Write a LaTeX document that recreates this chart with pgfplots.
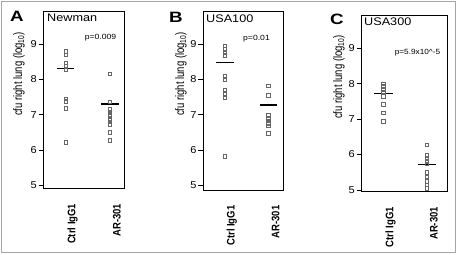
\documentclass[border=0pt]{standalone}
\usepackage{pgfplots}
\pgfplotsset{compat=1.18}
\usepackage{fontspec}
\setmainfont{Liberation Sans}
\pgfplotsset{
  panel/.style={
    scale only axis, anchor=south west,
    xtick={1,2}, xticklabels={Ctrl IgG1,AR-301},
    ytick={5,6,7,8,9},
    ytick pos=left, tick align=outside, major tick length=5pt,
    x tick style={draw=none},
    y tick style={black, line width=0.6pt},
    yticklabel style={font=\fontsize{10}{10}\selectfont, inner sep=1.5pt, xscale=1.1},
    xticklabel style={font=\fontsize{9.5}{10}\selectfont\bfseries, yshift=-7pt, xshift=7pt, rotate=90, anchor=east, yscale=1.15},
    /pgf/number format/assume math mode=true,
    axis line style={line width=0.8pt},
    clip=false,
  },
  dots/.style={only marks, mark=square, mark size=1.8pt, mark options={draw=black!60, line width=0.6pt}},
  mean/.style={black, line width=1.3pt, no marks},
}
\begin{document}
\begin{tikzpicture}
\useasboundingbox (0pt,0pt) rectangle (457pt,254pt);
\draw[gray!70, line width=1pt] (1pt,1.5pt) rectangle (455.5pt,252.5pt);

% Panel A
\begin{axis}[panel, at={(43.5pt,65.7pt)}, width=80.5pt, height=176.6pt,
  xmin=0.5, xmax=2.32, ymin=4.91, ymax=9.92]
\addplot[dots] coordinates {(1,8.80) (1,8.70) (1,8.47) (1,8.39) (1,8.27) (1,7.45) (1,7.38) (1,7.18) (1,6.22)};
\addplot[dots] coordinates {(2,8.16) (2,7.36) (2,7.15) (2,7.08) (2,7.01) (2,6.95) (2,6.87) (2,6.80) (2,6.73) (2,6.50) (2,6.27)};
\addplot[mean] coordinates {(0.8,8.30) (1.2,8.30)};
\addplot[mean] coordinates {(1.8,7.30) (2.2,7.30)};
\end{axis}

% Panel B
\begin{axis}[panel, at={(203.3pt,64pt)}, width=79.7pt, height=178.3pt,
  xmin=0.51, xmax=2.33, ymin=4.86, ymax=9.92]
\addplot[dots] coordinates {(1,8.95) (1,8.86) (1,8.77) (1,8.68) (1,8.09) (1,8.00) (1,7.70) (1,7.58) (1,7.49) (1,5.82)};
\addplot[dots] coordinates {(2,7.82) (2,7.54) (2,6.98) (2,6.90) (2,6.82) (2,6.75) (2,6.68) (2,6.47)};
\addplot[mean] coordinates {(0.8,8.48) (1.2,8.48)};
\addplot[mean] coordinates {(1.8,7.27) (2.2,7.27)};
\end{axis}

% Panel C
\begin{axis}[panel, at={(361.7pt,62.5pt)}, width=85.3pt, height=176.5pt,
  xmin=0.5, xmax=2.46, ymin=4.955, ymax=9.94]
\addplot[dots] coordinates {(1,8.00) (1,7.92) (1,7.84) (1,7.77) (1,7.64) (1,7.41) (1,7.18) (1,6.94)};
\addplot[dots] coordinates {(2,6.27) (2,5.97) (2,5.89) (2,5.80) (2,5.74) (2,5.50) (2,5.37) (2,5.25) (2,5.14) (2,5.04)};
\addplot[mean] coordinates {(0.79,7.73) (1.21,7.73)};
\addplot[mean] coordinates {(1.79,5.72) (2.21,5.72)};
\end{axis}

% panel letters
\node[font=\fontsize{15}{15}\selectfont\bfseries, xscale=1.25] at (17pt,238pt) {A};
\node[font=\fontsize{15}{15}\selectfont\bfseries, xscale=1.25] at (176pt,237pt) {B};
\node[font=\fontsize{15}{15}\selectfont\bfseries, xscale=1.25] at (337pt,235pt) {C};

% titles
\node[anchor=west, font=\fontsize{11}{11}\selectfont, xscale=1.15, inner sep=0pt] at (47pt,236pt) {Newman};
\node[anchor=west, font=\fontsize{11}{11}\selectfont, xscale=1.15, inner sep=0pt] at (206pt,235pt) {USA100};
\node[anchor=west, font=\fontsize{11}{11}\selectfont, xscale=1.15, inner sep=0pt] at (364pt,232pt) {USA300};

% p-values
\node[font=\fontsize{7.5}{8}\selectfont, xscale=1.15] at (100.5pt,216pt) {p=0.009};
\node[font=\fontsize{7.5}{8}\selectfont, xscale=1.15] at (256.5pt,215pt) {p=0.01};
\node[font=\fontsize{7.5}{8}\selectfont, xscale=1.1] at (417.5pt,201pt) {p=5.9x10\textasciicircum-5};

% y labels
\node[rotate=90, yscale=1.3, font=\fontsize{9.5}{10}\selectfont] at (19pt,180pt) {cfu right lung (log\textsubscript{10})};
\node[rotate=90, yscale=1.3, font=\fontsize{9.5}{10}\selectfont] at (181pt,180pt) {cfu right lung (log\textsubscript{10})};
\node[rotate=90, yscale=1.3, font=\fontsize{9.5}{10}\selectfont] at (339pt,177pt) {cfu right lung (log\textsubscript{10})};
\end{tikzpicture}
\end{document}
